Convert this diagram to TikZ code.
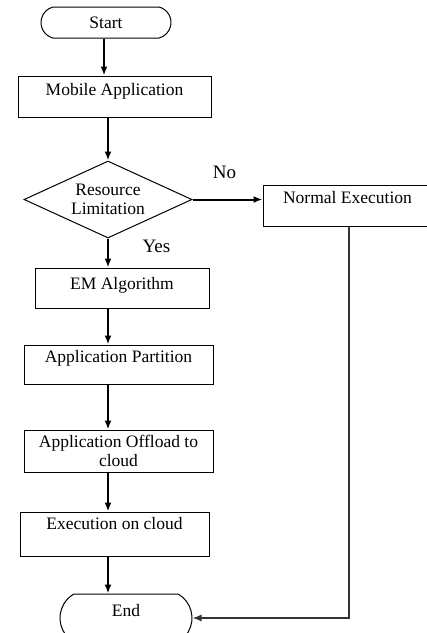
\documentclass[tikz,border=0pt]{standalone}
\usepackage{fontspec}
\setmainfont{Liberation Serif}
\usetikzlibrary{shapes.geometric,shapes.misc,arrows.meta}
\begin{document}
\begin{tikzpicture}[x=1pt,y=-1pt,
  box/.style={draw, line width=1pt, inner sep=0pt, anchor=center, font=\fontsize{17.5}{19}\selectfont},
  term/.style={box, rounded rectangle, rounded rectangle arc length=120},
  arr/.style={line width=2pt, -{Latex[length=9pt,width=7pt]}},
  ret/.style={line width=1.5pt, draw=black!80, -{Latex[length=9pt,width=7pt]}},
  lbl/.style={font=\fontsize{19}{21}\selectfont, anchor=base, inner sep=0pt}]
\useasboundingbox (0,0) rectangle (427,633);
\clip (0,0) rectangle (427,633);
\node[term, rounded rectangle arc length=150, minimum width=130pt, text height=21pt, text depth=10pt] (start) at (106,22.5) {Start};
\node[box, minimum width=193pt, text height=19pt, text depth=22pt] (mob) at (114.5,96.5) {Mobile Application};
\node[box, diamond, aspect=2.18, minimum width=168pt, minimum height=77pt, align=center] (dia) at (108,199.5) {Resource\\Limitation};
\node[box, minimum width=169pt, text height=18pt, text depth=23pt] (ne) at (347.5,205.5) {Normal Execution};
\node[box, minimum width=174pt, text height=21pt, text depth=19pt] (em) at (122,288) {EM Algorithm};
\node[box, minimum width=189pt, text height=17pt, text depth=22pt] (ap) at (118.5,364.5) {Application Partition};
\node[box, minimum width=189pt, minimum height=42pt, align=center] (ao) at (118.5,451) {Application Offload to\\cloud};
\node[box, minimum width=189pt, text height=17pt, text depth=27pt] (ec) at (114.5,534) {Execution on cloud};
\node[term, minimum width=132pt, text height=22pt, text depth=26pt] (end) at (126,618) {End};
\node[lbl] (yes) at (156.5,252) {Yes};
\node[lbl] (no) at (224.5,178) {No};
\coordinate (ax) at (108,0);
\draw[arr] ([xshift=-2pt]start.south) -- ([xshift=-2pt]start.south |- mob.north);
\draw[arr] (mob.south -| dia.north) -- (dia.north);
\draw[arr] (dia.south) -- (dia.south |- em.north);
\draw[arr] (em.south -| ax) -- (ax |- ap.north);
\draw[arr] (ap.south -| ax) -- (ax |- ao.north);
\draw[arr] (ao.south -| ax) -- (ax |- ec.north);
\draw[arr] (ec.south -| ax) -- (ax |- end.north);
\draw[arr] (dia.east) -- (dia.east -| ne.west);
\draw[ret] ([xshift=1.5pt]ne.south) |- (end.east);
\end{tikzpicture}
\end{document}
